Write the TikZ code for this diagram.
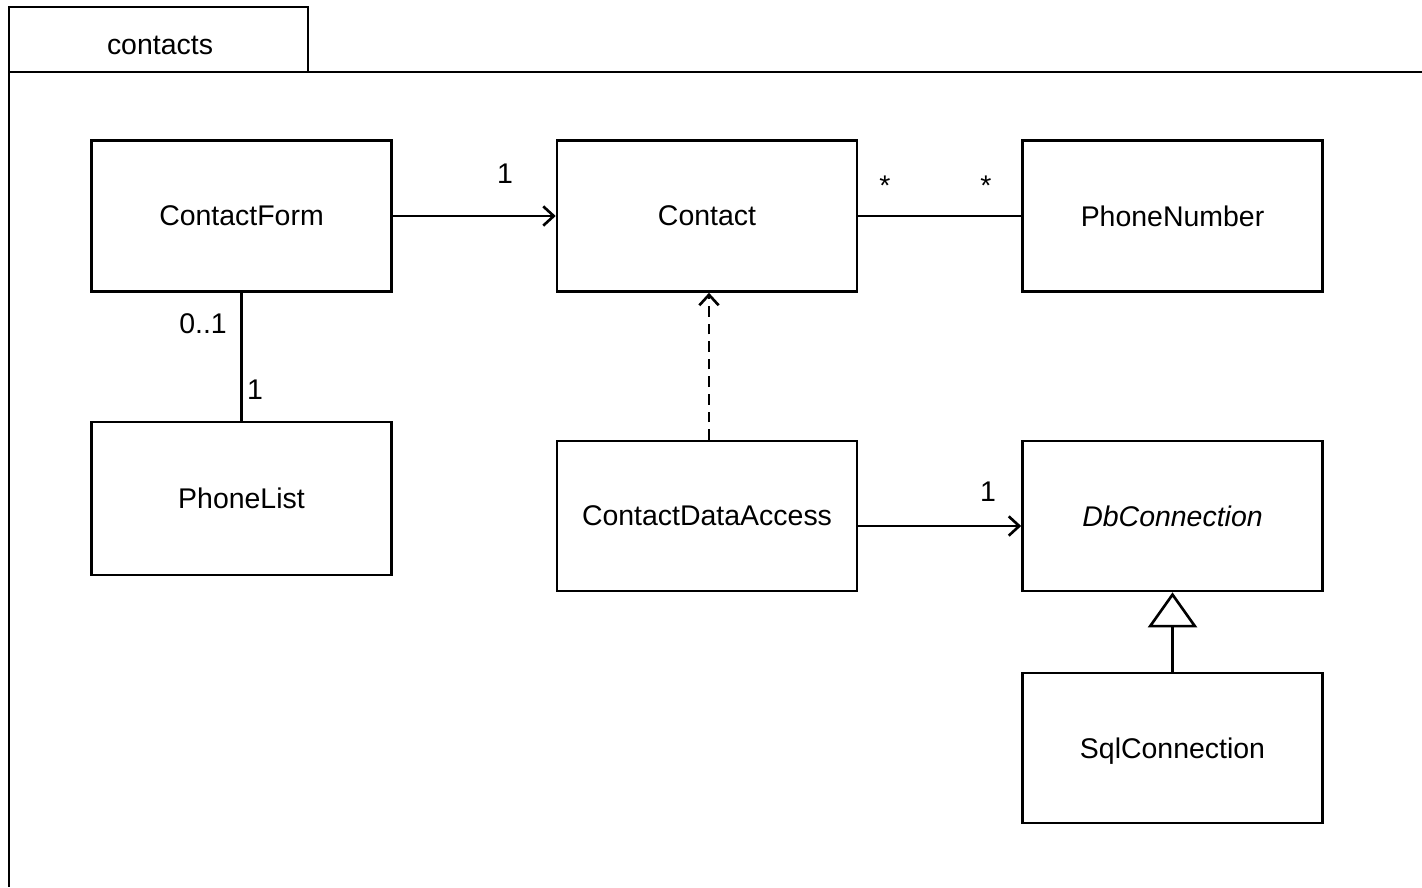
\documentclass[tikz,border=0pt]{standalone}
\usepackage{fontspec}
\setmainfont{Liberation Sans}
\usetikzlibrary{arrows.meta}

\begin{document}
\begin{tikzpicture}[x=0.02cm,y=-0.02cm]

    \tikzset{
      classbox/.style={
        draw,
        line width=1.5pt,
        minimum width=6cm,
        minimum height=3.02cm,
        inner sep=0pt,
        text depth=-1pt,
        font=\fontsize{16.2}{19}\selectfont,
      },
      mult/.style={font=\fontsize{16.2}{19}\selectfont, inner sep=0pt},
      assoc/.style={line width=1.5pt},
      navi/.style={assoc, -{Straight Barb[length=6pt,width=11pt,line width=1.5pt]}},
      depend/.style={navi, dash pattern=on 6pt off 4pt},
      inherit/.style={assoc, -{Triangle[open,length=20pt,width=28pt,fill=white,line width=1.5pt]}},
    }

	\useasboundingbox (0,0) rectangle (1422,887);

	% package frame
	\draw[line width=1.5pt] (9,72) rectangle (308,7);
	\node[mult] (pkg) at (160,45) {contacts};
	\draw[line width=1.5pt] (1422,72) -- (9,72) -- (9,887);

	% classes
	\node[classbox] (form) at (241.5,216) {ContactForm};
	\node[classbox] (contact) at (707,216) {Contact};
	\node[classbox] (phone) at (1172.5,216) {PhoneNumber};
	\node[classbox, minimum height=3.06cm] (list) at (241.5,498.5) {PhoneList};
	\node[classbox, minimum height=3cm] (cda) at (707,516) {ContactDataAccess};
	\node[classbox, minimum height=3cm] (db) at (1172.5,516) {\textit{DbConnection}};
	\node[classbox, minimum height=3cm] (sql) at (1172.5,748) {SqlConnection};

	% relations
	\draw[navi] (form.east) -- (contact.west);
	\draw[assoc] (contact.east) -- (phone.west);
	\draw[assoc] (form.south) -- (list.north);
	\draw[depend] ([xshift=0.04cm]cda.north) -- ([xshift=0.04cm]contact.south);
	\draw[navi] ([yshift=-0.2cm]cda.east) -- ([yshift=-0.2cm]db.west);
	\draw[inherit] (sql.north) -- (db.south);

	% multiplicities
	\node[mult] (m1) at (505,174) {1};
	\node[mult] (m2) at (885,186) {*};
	\node[mult] (m3) at (986,186) {*};
	\node[mult] (m4) at (203,324) {0..1};
	\node[mult] (m5) at (255,390) {1};
	\node[mult] (m6) at (988,492) {1};

\end{tikzpicture}
\end{document}
